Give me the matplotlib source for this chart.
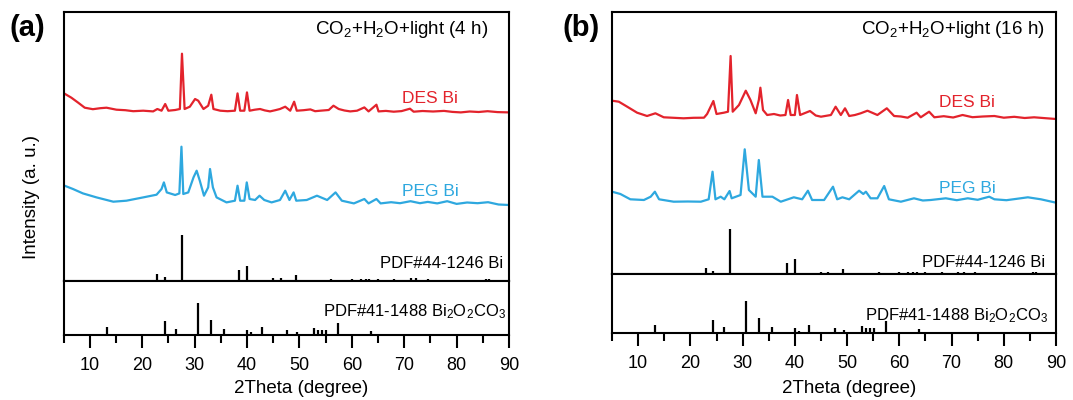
import numpy as np
import matplotlib
matplotlib.use('Agg')
import matplotlib.pyplot as plt

plt.rcParams['font.family'] = ['Liberation Sans', 'DejaVu Sans']
plt.rcParams['mathtext.fontset'] = 'custom'
plt.rcParams['mathtext.rm'] = 'Liberation Sans'
plt.rcParams['mathtext.default'] = 'regular'

RED = '#e3232c'
BLUE = '#2ea8df'

# ---- (a) 4 h : DES Bi ----
a_des_x = [5.2, 6.5, 7.8, 9.05, 10.6, 12.0, 13.2, 15.1, 16.8, 18.3, 20.2, 22.1, 22.9, 23.7, 24.4, 25.0, 26.3,
           27.2, 27.6, 28.1, 29.1, 30.1, 30.7, 31.7, 32.6, 33.2, 33.6, 34.9, 36.3, 37.7, 38.2, 38.7, 39.5,
           40.0, 40.5, 41.5, 42.5, 43.4, 44.4, 45.4, 46.3, 47.3, 48.25, 49.0, 49.5, 50.8, 52.1, 53.0, 54.0,
           55.6, 56.5, 57.5, 58.6, 59.7, 61.0, 62.4, 63.2, 64.7, 65.1, 66.5, 68.0, 69.5, 71.1, 71.8, 73.5,
           75.5, 77.6, 79.2, 80.8, 82.5, 84.2, 85.9, 87.8, 90.0]
a_des_y = [187, 183, 178, 173, 171.5, 172.5, 173, 171, 170.5, 169.5, 170, 169.3, 171.7, 170, 176.7, 170, 170.7,
           171.7, 227, 171.7, 174, 181.7, 180, 171.7, 175, 186, 171.7, 170, 169.5, 170, 187.3, 170, 170,
           188.3, 170, 171, 171.7, 170.3, 169.3, 170.5, 171.7, 174, 170, 179, 170, 170.5, 171.3, 169.5, 170,
           170.7, 175, 171.7, 170.2, 169.3, 170, 173.3, 169.3, 176, 169.3, 169.8, 169, 169.6, 172, 169, 169.7,
           169.2, 169.8, 168.8, 168.3, 169.2, 168.7, 169.5, 168.6, 168.3]
# ---- (a) 4 h : PEG Bi ----
a_peg_x = [5.2, 6.8, 8.7, 11.3, 14.5, 17.0, 20.2, 22.75, 23.7, 24.15, 24.7, 26.3, 27.1, 27.5, 27.85, 28.8,
           29.8, 30.4, 31.0, 31.8, 32.6, 32.95, 33.5, 34.2, 36.1, 37.7, 38.2, 38.7, 39.5, 39.96, 40.5, 41.55,
           42.4, 43.3, 44.7, 46.3, 47.3, 48.1, 48.9, 49.4, 51.4, 53.35, 55.3, 56.9, 58.1, 60.4, 62.4, 63.2,
           64.7, 65.5, 67.5, 69.2, 71.2, 73.0, 74.5, 76.3, 78.2, 80.0, 82.0, 84.0, 86.0, 88.0, 90.0]
a_peg_y = [95, 91.7, 87.3, 83.3, 79, 80, 83.3, 86, 91.7, 98.3, 88.3, 85.7, 87.3, 134, 86.7, 88.3,
           103.3, 110, 100, 85, 93.3, 111.7, 93.3, 83.3, 78.3, 80, 95, 80, 80, 98.3, 81.7, 80.7,
           85, 80.7, 78.3, 80.7, 90, 80.7, 88.3, 80, 80.7, 85, 80.7, 88.3, 80, 77.3, 81.7, 77.3,
           81.7, 77.3, 78.5, 77.5, 79.5, 77.5, 78.8, 77.3, 79.5, 76.8, 78.2, 77.5, 78.5, 76.2, 75.7]

# ---- (b) 16 h : DES Bi ----
b_des_x = [5.0, 6.3, 7.9, 9.8, 11.7, 13.3, 14.9, 16.8, 18.7, 20.6, 22.6, 23.2, 24.4, 25.0, 26.4, 27.2, 27.7,
           28.1, 29.3, 30.6, 31.5, 32.5, 33.1, 33.4, 33.9, 34.7, 36.0, 37.2, 38.2, 38.7, 39.2, 40.0, 40.4,
           41.0, 42.9, 44.0, 45.0, 46.9, 47.8, 48.8, 49.6, 50.4, 51.5, 52.6, 53.9, 55.8, 57.6, 59.0, 60.3,
           61.6, 63.3, 64.1, 65.7, 66.7, 68.5, 70.3, 72.1, 74.0, 76.0, 78.2, 80.0, 82.0, 84.0, 85.8, 88.0,
           90.0]
b_des_y = [173.3, 172.3, 167.3, 161.3, 158, 160.7, 156.7, 156.2, 155.7, 156.2, 156.3, 160, 173, 160, 161.3, 162.3, 218,
           162.3, 169, 183.3, 174, 160.7, 174, 186.3, 164, 159, 160, 158.5, 159, 174, 159, 159, 179,
           159, 163, 158.5, 157.3, 159, 167.3, 159, 165.7, 158, 159, 160.7, 163.3, 159, 165.7, 158, 157.5,
           156.3, 161.3, 156.7, 162.3, 156.7, 157.8, 156.5, 159, 156.8, 157.5, 158, 156.3, 157.2, 156, 156.7, 155.8,
           155]
# ---- (b) 16 h : PEG Bi ----
b_peg_x = [5.0, 6.6, 8.5, 11.1, 12.4, 13.2, 14.0, 16.8, 19.5, 22.0, 23.5, 24.24, 24.8, 25.8, 26.5, 27.5, 27.9,
           29.6, 30.4, 31.2, 32.5, 33.1, 33.8, 35.7, 37.3, 39.8, 41.4, 42.5, 43.3, 45.6, 47.3, 48.1, 49.1,
           50.4, 52.3, 53.1, 53.6, 54.5, 55.8, 57.1, 58.0, 60.3, 62.8, 64.5, 66.0, 68.9, 71.0, 73.1, 75.0,
           77.2, 78.2, 80.5, 82.5, 84.6, 87.1, 90.0]
b_peg_y = [82.3, 80, 74.7, 74, 77.3, 82.3, 74.7, 72.3, 72.5, 72.3, 74.7, 102.3, 74.7, 77.3, 74.7, 83, 75.7,
           79, 124.7, 84, 77.3, 114, 77.3, 77.3, 72.3, 76.7, 74.7, 83.3, 74, 74, 87.3, 74.7, 76.7,
           74.7, 83.3, 80, 82.3, 75.7, 75.7, 88, 74.7, 72.3, 75.7, 73.5, 74, 75.7, 73.8, 75.7, 74.2,
           77.3, 74.7, 73.8, 75.2, 76.7, 74.7, 71.3]

# ---- reference cards ----
bi_pos = [22.9, 24.3, 27.6, 38.4, 40.1, 45.0, 46.4, 49.3, 56.1, 60.0, 61.7, 62.7, 63.3, 65.0, 68.1,
          71.3, 72.3, 74.5, 85.6, 86.1]
bi_int = [6.5, 3.3, 45.5, 11.2, 15.2, 2.5, 2.5, 5.5, 2, 2, 2, 2, 2, 2, 2, 2.3, 2.3, 1.8, 2, 2]
bioc_pos = [13.3, 24.4, 26.5, 30.7, 33.2, 35.7, 40.0, 40.8, 42.8, 47.6, 49.5, 52.8, 53.6, 54.3, 55.1,
            57.4, 63.7]
bioc_int = [8, 13.7, 6.3, 32.2, 15.5, 6.3, 5.5, 2.7, 8.5, 5, 3.5, 7.2, 5.5, 5, 5, 12.3, 4.5]

fig = plt.figure(figsize=(10.73, 4.0), dpi=100)

panels = [
    dict(tag='(a)', tagx=0.042, title='CO$_2$+H$_2$O+light (4 h)', des=(a_des_x, a_des_y), peg=(a_peg_x, a_peg_y),
         left=0.0592, width=0.4152, top=0.97, mid=0.29825, bot=0.1625,
         des_txt=(0.886, 0.660), peg_txt=(0.888, 0.315), bi_txt=(0.9865, 0.047),
         bioc_txt=(0.993, 0.337), ttl=(0.952, 0.9185), ylab=True),
    dict(tag='(b)', tagx=0.559, title='CO$_2$+H$_2$O+light (16 h)', des=(b_des_x, b_des_y), peg=(b_peg_x, b_peg_y),
         left=0.5704, width=0.4138, top=0.97075, mid=0.315, bot=0.16675,
         des_txt=(0.8626, 0.638), peg_txt=(0.865, 0.3077), bi_txt=(0.975, 0.028),
         bioc_txt=(0.9827, 0.2125), ttl=(0.975, 0.915), ylab=False),
]

for p in panels:
    ax1 = fig.add_axes([p['left'], p['mid'], p['width'], p['top'] - p['mid']])
    ax2 = fig.add_axes([p['left'], p['bot'], p['width'], p['mid'] - p['bot']], sharex=ax1)
    top_px = (p['top'] - p['mid']) * 400
    bot_px = (p['mid'] - p['bot']) * 400

    ax1.plot(*p['des'], color=RED, lw=1.6)
    ax1.plot(*p['peg'], color=BLUE, lw=1.6)
    ax1.vlines(bi_pos, 0, bi_int, color='black', lw=1.6)
    ax1.set_ylim(0, top_px)
    ax2.vlines(bioc_pos, 0, bioc_int, color='black', lw=1.6)
    ax2.set_ylim(0, bot_px)
    ax1.set_xlim(5, 90)

    for ax in (ax1, ax2):
        for s in ax.spines.values():
            s.set_linewidth(1.5)
        ax.set_yticks([])
    ax1.tick_params(axis='x', which='both', bottom=False, labelbottom=False)
    ax2.set_xticks(np.arange(10, 91, 10))
    ax2.set_xticks(np.arange(5, 90, 5), minor=True)
    ax2.tick_params(axis='x', which='major', direction='out', length=9.2, width=1.5, labelsize=13, pad=6.5)
    ax2.tick_params(axis='x', which='minor', direction='out', length=5.4, width=1.5)
    ax2.set_xlabel('2Theta (degree)', fontsize=13.5)
    # label top sits at ~380 px from the top of the figure
    ax2.xaxis.set_label_coords(0.533, -(380 - (400 - p['bot'] * 400)) / bot_px)

    ax1.text(*p['des_txt'], 'DES Bi', color=RED, fontsize=12.5, ha='right', va='baseline', transform=ax1.transAxes)
    ax1.text(*p['peg_txt'], 'PEG Bi', color=BLUE, fontsize=12.5, ha='right', va='baseline', transform=ax1.transAxes)
    ax1.text(*p['bi_txt'], 'PDF#44-1246 Bi', fontsize=12, ha='right', va='baseline', transform=ax1.transAxes)
    ax2.text(*p['bioc_txt'], 'PDF#41-1488 Bi$_2$O$_2$CO$_3$', fontsize=12, ha='right', va='baseline',
             transform=ax2.transAxes)
    ax1.text(*p['ttl'], p['title'], fontsize=13.5, ha='right', va='baseline', transform=ax1.transAxes)
    fig.text(p['tagx'], 0.93, p['tag'], fontsize=21, fontweight='bold', ha='right', va='center')

    if p['ylab']:
        fig.text(0.029, 0.508, 'Intensity (a. u.)', fontsize=13.5, rotation=90, ha='center', va='center')

fig.savefig('out.png', dpi=100)
